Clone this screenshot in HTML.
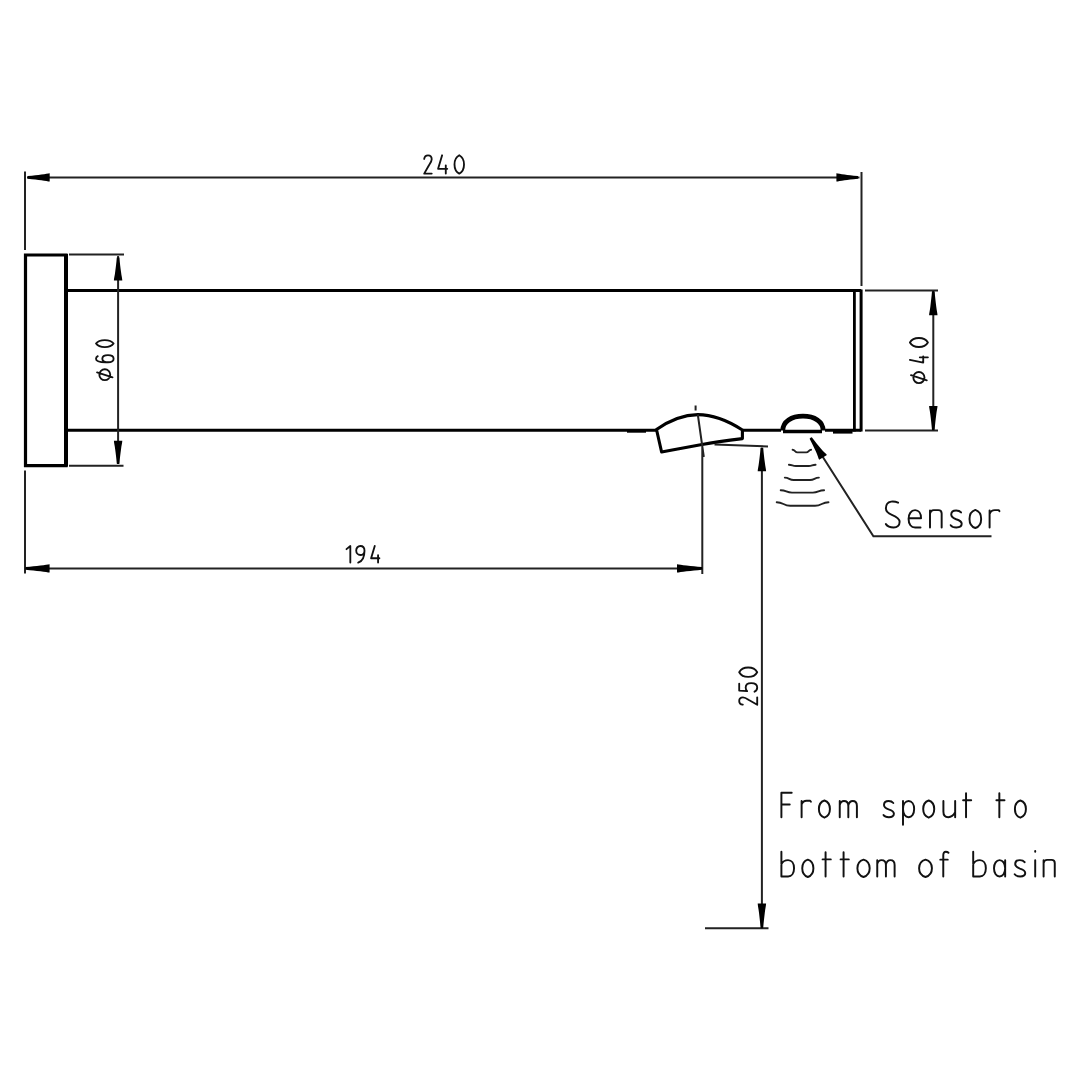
<!DOCTYPE html>
<html><head><meta charset="utf-8"><title>Drawing</title>
<style>html,body{margin:0;padding:0;background:#fff;}svg{display:block;}</style></head>
<body><svg width="1080" height="1080" viewBox="0 0 1080 1080">
<rect width="1080" height="1080" fill="#fff"/>
<g fill="none" stroke="#000" stroke-linecap="butt"><path d="M25.5,255 H66 V465.6 H25.5 Z" stroke-width="3.2"/>
<path d="M66,254 V466.5" stroke-width="4"/>
<path d="M66,290.6 H861.2" stroke-width="3"/>
<path d="M66,430.3 H656 M743,430.3 H781 M825,430.3 H861.2" stroke-width="3"/>
<path d="M627,430.9 H646" stroke-width="3.6"/>
<path d="M833,431.6 H852.5" stroke-width="4"/>
<path d="M854.4,290.6 V431.5" stroke-width="2.8"/>
<path d="M861.1,289.5 V431.5" stroke-width="3"/>
<path d="M656.5,429.5 C670,420 683,414.8 697.8,414.6 C712,414.6 727,420 742.4,430 L742.4,438.6 C729,440.2 715,442 702,444.4 C688,447 675,449.6 661.6,452 Z" stroke-width="3.1" stroke-linejoin="round"/>
<path d="M782.8,430.5 C782.8,421.5 791.5,416.2 803,416.2 C814.5,416.2 823.1,421.5 823.1,430.5" stroke-width="4.8"/>
<path d="M783,431.5 H822" stroke-width="3.6"/></g>
<g fill="none" stroke="#222" stroke-width="2.0" stroke-linecap="butt"><path d="M25,171.5 V250 M861.5,172 V286 M27,177.4 H859.5 M69,254.5 H124 M69,465.7 H123.5 M118.1,256 V464 M865,290.6 H938 M865,430.4 H938 M933.3,292 V429 M25,470.5 V573.5 M702.3,445 V574 M27,568.4 H700 M695.6,405.5 V410.5 M697.8,414.5 L703.8,457 M714.5,444.4 L768,446.4 M705,928.3 H768.5 M761.9,448 V926 M812,440 L873.4,536.3 H991.5"/></g>
<path fill="none" stroke="#222" stroke-width="1.9" stroke-linecap="round" d="M792.6,449.8 C795.00,449.80 795.00,452.40 797.41,452.40 H806.29 C808.70,452.40 808.70,449.80 811.1,449.8 M788.9,464.8 C792.37,464.80 792.37,466.00 795.84,466.00 H808.66 C812.13,466.00 812.13,464.80 815.6,464.8 M784.8,477.6 C789.23,477.60 789.23,480.00 793.67,480.00 H810.03 C814.47,480.00 814.47,477.60 818.9,477.6 M780.7,490.2 C786.34,490.20 786.34,492.60 791.98,492.60 H812.82 C818.46,492.60 818.46,490.20 824.1,490.2 M776.7,502.2 C783.43,502.20 783.43,505.80 790.17,505.80 H815.03 C821.77,505.80 821.77,502.20 828.5,502.2"/>
<g fill="#000" stroke="none"><path transform="translate(27.70,177.40) rotate(180.00)" d="M0,-1.3 C-6,-1.8 -10,-2.3 -13.64,-2.9 C-17.60,-3.4 -20.46,-4.20 -22.00,-4.20 L-22.00,4.20 C-20.46,4.20 -17.60,3.4 -13.64,2.9 C-10,2.3 -6,1.8 0,1.3 Q0.5,0 0,-1.3 Z"/>
<path transform="translate(857.90,177.40) rotate(0.00)" d="M0,-1.3 C-6,-1.8 -10,-2.3 -13.33,-2.9 C-17.20,-3.4 -20.00,-4.20 -21.50,-4.20 L-21.50,4.20 C-20.00,4.20 -17.20,3.4 -13.33,2.9 C-10,2.3 -6,1.8 0,1.3 Q0.5,0 0,-1.3 Z"/>
<path transform="translate(118.10,257.40) rotate(-90.00)" d="M0,-1.3 C-6,-1.8 -10,-2.3 -14.26,-2.9 C-18.40,-3.4 -21.39,-4.20 -23.00,-4.20 L-23.00,4.20 C-21.39,4.20 -18.40,3.4 -14.26,2.9 C-10,2.3 -6,1.8 0,1.3 Q0.5,0 0,-1.3 Z"/>
<path transform="translate(118.10,463.80) rotate(90.00)" d="M0,-1.3 C-6,-1.8 -10,-2.3 -14.26,-2.9 C-18.40,-3.4 -21.39,-4.20 -23.00,-4.20 L-23.00,4.20 C-21.39,4.20 -18.40,3.4 -14.26,2.9 C-10,2.3 -6,1.8 0,1.3 Q0.5,0 0,-1.3 Z"/>
<path transform="translate(933.30,291.30) rotate(-90.00)" d="M0,-1.3 C-6,-1.8 -10,-2.3 -14.88,-2.9 C-19.20,-3.4 -22.32,-4.20 -24.00,-4.20 L-24.00,4.20 C-22.32,4.20 -19.20,3.4 -14.88,2.9 C-10,2.3 -6,1.8 0,1.3 Q0.5,0 0,-1.3 Z"/>
<path transform="translate(933.30,429.90) rotate(90.00)" d="M0,-1.3 C-6,-1.8 -10,-2.3 -14.88,-2.9 C-19.20,-3.4 -22.32,-4.20 -24.00,-4.20 L-24.00,4.20 C-22.32,4.20 -19.20,3.4 -14.88,2.9 C-10,2.3 -6,1.8 0,1.3 Q0.5,0 0,-1.3 Z"/>
<path transform="translate(25.60,568.40) rotate(180.00)" d="M0,-1.3 C-6,-1.8 -10,-2.3 -14.88,-2.9 C-19.20,-3.4 -22.32,-4.20 -24.00,-4.20 L-24.00,4.20 C-22.32,4.20 -19.20,3.4 -14.88,2.9 C-10,2.3 -6,1.8 0,1.3 Q0.5,0 0,-1.3 Z"/>
<path transform="translate(702.00,568.40) rotate(0.00)" d="M0,-1.3 C-6,-1.8 -10,-2.3 -15.50,-2.9 C-20.00,-3.4 -23.25,-4.20 -25.00,-4.20 L-25.00,4.20 C-23.25,4.20 -20.00,3.4 -15.50,2.9 C-10,2.3 -6,1.8 0,1.3 Q0.5,0 0,-1.3 Z"/>
<path transform="translate(761.90,447.80) rotate(-90.00)" d="M0,-1.3 C-6,-1.8 -10,-2.3 -14.57,-2.9 C-18.80,-3.4 -21.86,-4.20 -23.50,-4.20 L-23.50,4.20 C-21.86,4.20 -18.80,3.4 -14.57,2.9 C-10,2.3 -6,1.8 0,1.3 Q0.5,0 0,-1.3 Z"/>
<path transform="translate(761.90,927.90) rotate(90.00)" d="M0,-1.3 C-6,-1.8 -10,-2.3 -15.19,-2.9 C-19.60,-3.4 -22.79,-4.20 -24.50,-4.20 L-24.50,4.20 C-22.79,4.20 -19.60,3.4 -15.19,2.9 C-10,2.3 -6,1.8 0,1.3 Q0.5,0 0,-1.3 Z"/>
<path transform="translate(810.70,438.00) rotate(-122.48)" d="M0,-1.3 C-6,-1.8 -10,-2.3 -14.26,-2.9 C-18.40,-3.4 -21.39,-4.60 -23.00,-4.60 L-23.00,4.60 C-21.39,4.60 -18.40,3.4 -14.26,2.9 C-10,2.3 -6,1.8 0,1.3 Q0.5,0 0,-1.3 Z"/></g>
<g fill="none" stroke="#111" stroke-linecap="round" stroke-linejoin="round"><path transform="matrix(1.8300,0,0,1.83,424.2,173.6)" d="M0,-8.0 C0.2,-9.4 1.0,-10 2.1,-10 C3.3,-10 4.1,-9.2 4.1,-7.9 C4.1,-6.6 3.3,-5.6 2.6,-4.6 L0,0 H4.1" stroke-width="1.0109" vector-effect="non-scaling-stroke" style="stroke-width:1.85px"/>
<path transform="matrix(1.8300,0,0,1.83,438.1,173.6)" d="M2.2,-10 L0,-2.6 H5.0 M4.2,-4.5 V0" stroke-width="1.0109" vector-effect="non-scaling-stroke" style="stroke-width:1.85px"/>
<path transform="matrix(1.8300,0,0,1.83,454.5,173.6)" d="M2.6,-10 C3.9,-9.3 5.2,-8.0 5.2,-5 C5.2,-2.0 3.9,-0.7 2.6,0 C1.3,-0.7 0,-2.0 0,-5 C0,-8.0 1.3,-9.3 2.6,-10 Z" stroke-width="1.0109" vector-effect="non-scaling-stroke" style="stroke-width:1.85px"/>
<path transform="matrix(1.6600,0,0,1.66,346.5,562.6)" d="M0,-8.1 L2.3,-10 V0" stroke-width="1.1145" vector-effect="non-scaling-stroke" style="stroke-width:1.85px"/>
<path transform="matrix(1.6600,0,0,1.66,356.2,562.6)" d="M5.0,-7.2 C5.0,-8.9 3.9,-10 2.5,-10 C1.1,-10 0,-8.9 0,-7.3 C0,-5.7 1.1,-4.6 2.5,-4.6 C3.9,-4.6 5.0,-5.7 5.0,-7.2 C5.0,-3.8 3.6,-0.8 1.2,0" stroke-width="1.1145" vector-effect="non-scaling-stroke" style="stroke-width:1.85px"/>
<path transform="matrix(1.6600,0,0,1.66,371.1,562.6)" d="M2.2,-10 L0,-2.6 H5.0 M4.2,-4.5 V0" stroke-width="1.1145" vector-effect="non-scaling-stroke" style="stroke-width:1.85px"/>
<path transform="matrix(0,-1.8000,1.8,0,757.2,704.7)" d="M0,-8.0 C0.2,-9.4 1.0,-10 2.1,-10 C3.3,-10 4.1,-9.2 4.1,-7.9 C4.1,-6.6 3.3,-5.6 2.6,-4.6 L0,0 H4.1" stroke-width="1.0278" vector-effect="non-scaling-stroke" style="stroke-width:1.85px"/>
<path transform="matrix(0,-1.8000,1.8,0,757.2,691.7)" d="M4.4,-10 H0.6 L0.3,-5.6 C0.9,-6.2 1.7,-6.4 2.4,-6.4 C3.8,-6.4 4.8,-5.2 4.8,-3.3 C4.8,-1.3 3.8,0 2.3,0 C1.2,0 0.4,-0.6 0,-1.5" stroke-width="1.0278" vector-effect="non-scaling-stroke" style="stroke-width:1.85px"/>
<path transform="matrix(0,-1.8000,1.8,0,757.2,676.9)" d="M2.6,-10 C3.9,-9.3 5.2,-8.0 5.2,-5 C5.2,-2.0 3.9,-0.7 2.6,0 C1.3,-0.7 0,-2.0 0,-5 C0,-8.0 1.3,-9.3 2.6,-10 Z" stroke-width="1.0278" vector-effect="non-scaling-stroke" style="stroke-width:1.85px"/>
<path transform="matrix(0,-1.7600,1.76,0,113.6,380.5)" d="M1.8,-0.6 L4.6,-9.4 M6.4,-5 A3.1,3.1 0 1 1 0.2,-5 A3.1,3.1 0 1 1 6.4,-5 Z" stroke-width="1.0511" vector-effect="non-scaling-stroke" style="stroke-width:1.85px"/>
<path transform="matrix(0,-1.4256,1.76,0,113.6,362.3)" d="M4.3,-9.0 C3.8,-9.7 3.2,-10 2.5,-10 C1.0,-10 0,-8.0 0,-4.5 L0,-3.2 C0,-1.2 1.1,0 2.5,0 C3.9,0 5.0,-1.2 5.0,-3.2 C5.0,-5.2 3.9,-6.4 2.5,-6.4 C1.2,-6.4 0.2,-5.4 0,-3.8" stroke-width="1.0511" vector-effect="non-scaling-stroke" style="stroke-width:1.85px"/>
<path transform="matrix(0,-1.3552,1.76,0,113.6,347.1)" d="M2.6,-10 C3.9,-9.3 5.2,-8.0 5.2,-5 C5.2,-2.0 3.9,-0.7 2.6,0 C1.3,-0.7 0,-2.0 0,-5 C0,-8.0 1.3,-9.3 2.6,-10 Z" stroke-width="1.0511" vector-effect="non-scaling-stroke" style="stroke-width:1.85px"/>
<path transform="matrix(0,-1.8000,1.8,0,927.9,383.5)" d="M1.8,-0.6 L4.6,-9.4 M6.4,-5 A3.1,3.1 0 1 1 0.2,-5 A3.1,3.1 0 1 1 6.4,-5 Z" stroke-width="1.0278" vector-effect="non-scaling-stroke" style="stroke-width:1.85px"/>
<path transform="matrix(0,-1.2600,1.8,0,927.9,362.6)" d="M2.2,-10 L0,-2.6 H5.0 M4.2,-4.5 V0" stroke-width="1.0278" vector-effect="non-scaling-stroke" style="stroke-width:1.85px"/>
<path transform="matrix(0,-1.7280,1.8,0,927.9,347.0)" d="M2.6,-10 C3.9,-9.3 5.2,-8.0 5.2,-5 C5.2,-2.0 3.9,-0.7 2.6,0 C1.3,-0.7 0,-2.0 0,-5 C0,-8.0 1.3,-9.3 2.6,-10 Z" stroke-width="1.0278" vector-effect="non-scaling-stroke" style="stroke-width:1.85px"/>
<path transform="matrix(2.5900,0,0,2.59,885.9,527.5)" d="M4.7,-9.6 C3.8,-10.0 2.9,-10.1 2.0,-10.0 C0.8,-9.8 0,-8.8 0,-7.4 C0,-6.0 1.0,-5.4 2.3,-4.9 C4.0,-4.2 5.3,-3.5 5.3,-2.2 C5.3,-0.8 4.3,0 3.0,0 C1.7,0 0.6,-0.4 0,-1.3" stroke-width="0.7529" vector-effect="non-scaling-stroke" style="stroke-width:1.95px"/>
<path transform="matrix(2.5900,0,0,2.59,908.6,527.5)" d="M0,-3.6 H4.8 C4.8,-5.5 3.9,-6.7 2.5,-6.7 C1.0,-6.7 0,-5.3 0,-3.3 C0,-1.2 1.0,0 2.5,0 H4.6" stroke-width="0.7529" vector-effect="non-scaling-stroke" style="stroke-width:1.95px"/>
<path transform="matrix(2.5900,0,0,2.59,930.0,527.5)" d="M0,-6.6 V0 M0,-5.4 C0.2,-6.3 0.7,-6.7 1.4,-6.7 H3.2 C4.0,-6.7 4.5,-6.2 4.5,-5.4 V0" stroke-width="0.7529" vector-effect="non-scaling-stroke" style="stroke-width:1.95px"/>
<path transform="matrix(2.5900,0,0,2.59,950.7,527.5)" d="M4.0,-5.8 C3.6,-6.3 3.0,-6.6 2.1,-6.6 C0.9,-6.6 0.2,-6.0 0.2,-5.0 C0.2,-4.0 1.0,-3.6 2.1,-3.2 C3.4,-2.8 4.25,-2.3 4.25,-1.4 C4.25,-0.5 3.4,0 2.2,0 C1.2,0 0.4,-0.3 0,-0.9" stroke-width="0.7529" vector-effect="non-scaling-stroke" style="stroke-width:1.95px"/>
<path transform="matrix(2.5900,0,0,2.59,969.5,527.5)" d="M2.25,-6.8 C3.5,-6.4 4.5,-5.3 4.5,-3.3 C4.5,-1.3 3.5,-0.2 2.25,0.2 C1.0,-0.2 0,-1.3 0,-3.3 C0,-5.3 1.0,-6.4 2.25,-6.8 Z" stroke-width="0.7529" vector-effect="non-scaling-stroke" style="stroke-width:1.95px"/>
<path transform="matrix(2.5900,0,0,2.59,989.6,527.5)" d="M0,-6.6 V0 M0,-5.2 C0.4,-6.2 1.1,-6.7 2.0,-6.7 H3.5 L3.8,-6.3" stroke-width="0.7529" vector-effect="non-scaling-stroke" style="stroke-width:1.95px"/>
<path transform="matrix(2.4500,0,0,2.45,781.4,817.2)" d="M4.2,-10 H0 V0 M0,-5.2 H3.4" stroke-width="0.7959" vector-effect="non-scaling-stroke" style="stroke-width:1.95px"/>
<path transform="matrix(2.4500,0,0,2.45,801.6,817.2)" d="M0,-6.6 V0 M0,-5.2 C0.4,-6.2 1.1,-6.7 2.0,-6.7 H3.5 L3.8,-6.3" stroke-width="0.7959" vector-effect="non-scaling-stroke" style="stroke-width:1.95px"/>
<path transform="matrix(2.4500,0,0,2.45,818.9,817.2)" d="M2.25,-6.8 C3.5,-6.4 4.5,-5.3 4.5,-3.3 C4.5,-1.3 3.5,-0.2 2.25,0.2 C1.0,-0.2 0,-1.3 0,-3.3 C0,-5.3 1.0,-6.4 2.25,-6.8 Z" stroke-width="0.7959" vector-effect="non-scaling-stroke" style="stroke-width:1.95px"/>
<path transform="matrix(2.4500,0,0,2.45,839.75,817.2)" d="M0,-6.6 V0 M0,-5.0 C0.3,-6.1 0.9,-6.6 1.7,-6.6 C2.8,-6.6 3.5,-5.9 3.5,-4.6 V0 M3.5,-4.8 C3.8,-6.1 4.5,-6.6 5.3,-6.6 C6.4,-6.6 7.0,-5.9 7.0,-4.6 V0" stroke-width="0.7959" vector-effect="non-scaling-stroke" style="stroke-width:1.95px"/>
<path transform="matrix(2.4500,0,0,2.45,883.5,817.2)" d="M4.0,-5.8 C3.6,-6.3 3.0,-6.6 2.1,-6.6 C0.9,-6.6 0.2,-6.0 0.2,-5.0 C0.2,-4.0 1.0,-3.6 2.1,-3.2 C3.4,-2.8 4.25,-2.3 4.25,-1.4 C4.25,-0.5 3.4,0 2.2,0 C1.2,0 0.4,-0.3 0,-0.9" stroke-width="0.7959" vector-effect="non-scaling-stroke" style="stroke-width:1.95px"/>
<path transform="matrix(2.4500,0,0,2.45,903.0,817.2)" d="M0,-6.6 V3.1 M0,-3.3 C0,-5.3 1.0,-6.6 2.3,-6.6 C3.6,-6.6 4.55,-5.3 4.55,-3.3 C4.55,-1.3 3.6,0 2.3,0 C1.0,0 0,-1.3 0,-3.3" stroke-width="0.7959" vector-effect="non-scaling-stroke" style="stroke-width:1.95px"/>
<path transform="matrix(2.4500,0,0,2.45,923.2,817.2)" d="M2.25,-6.8 C3.5,-6.4 4.5,-5.3 4.5,-3.3 C4.5,-1.3 3.5,-0.2 2.25,0.2 C1.0,-0.2 0,-1.3 0,-3.3 C0,-5.3 1.0,-6.4 2.25,-6.8 Z" stroke-width="0.7959" vector-effect="non-scaling-stroke" style="stroke-width:1.95px"/>
<path transform="matrix(2.4500,0,0,2.45,943.4,817.2)" d="M0,-6.6 V-2.2 C0,-0.8 0.8,0 2.0,0 C3.2,0 4.1,-0.7 4.8,-2.0 M4.8,-6.6 V0" stroke-width="0.7959" vector-effect="non-scaling-stroke" style="stroke-width:1.95px"/>
<path transform="matrix(2.4500,0,0,2.45,963.1,817.2)" d="M1.2,-9.8 V0 M0,-6.9 H3.3" stroke-width="0.7959" vector-effect="non-scaling-stroke" style="stroke-width:1.95px"/>
<path transform="matrix(2.4500,0,0,2.45,996.4,817.2)" d="M1.2,-9.8 V0 M0,-6.9 H3.3" stroke-width="0.7959" vector-effect="non-scaling-stroke" style="stroke-width:1.95px"/>
<path transform="matrix(2.4500,0,0,2.45,1014.9,817.2)" d="M2.25,-6.8 C3.5,-6.4 4.5,-5.3 4.5,-3.3 C4.5,-1.3 3.5,-0.2 2.25,0.2 C1.0,-0.2 0,-1.3 0,-3.3 C0,-5.3 1.0,-6.4 2.25,-6.8 Z" stroke-width="0.7959" vector-effect="non-scaling-stroke" style="stroke-width:1.95px"/>
<path transform="matrix(2.4800,0,0,2.48,781.4,876.5)" d="M0,-10 V0 H2.7 C4.1,0 5.1,-1.3 5.1,-3.3 C5.1,-5.3 4.1,-6.6 2.7,-6.6 C1.5,-6.6 0.5,-6.0 0,-5.0" stroke-width="0.7863" vector-effect="non-scaling-stroke" style="stroke-width:1.95px"/>
<path transform="matrix(2.4800,0,0,2.48,802.25,876.5)" d="M2.25,-6.8 C3.5,-6.4 4.5,-5.3 4.5,-3.3 C4.5,-1.3 3.5,-0.2 2.25,0.2 C1.0,-0.2 0,-1.3 0,-3.3 C0,-5.3 1.0,-6.4 2.25,-6.8 Z" stroke-width="0.7863" vector-effect="non-scaling-stroke" style="stroke-width:1.95px"/>
<path transform="matrix(2.4800,0,0,2.48,822.6,876.5)" d="M1.2,-9.8 V0 M0,-6.9 H3.3" stroke-width="0.7863" vector-effect="non-scaling-stroke" style="stroke-width:1.95px"/>
<path transform="matrix(2.4800,0,0,2.48,840.6,876.5)" d="M1.2,-9.8 V0 M0,-6.9 H3.3" stroke-width="0.7863" vector-effect="non-scaling-stroke" style="stroke-width:1.95px"/>
<path transform="matrix(2.7280,0,0,2.48,857.4,876.5)" d="M2.25,-6.8 C3.5,-6.4 4.5,-5.3 4.5,-3.3 C4.5,-1.3 3.5,-0.2 2.25,0.2 C1.0,-0.2 0,-1.3 0,-3.3 C0,-5.3 1.0,-6.4 2.25,-6.8 Z" stroke-width="0.7863" vector-effect="non-scaling-stroke" style="stroke-width:1.95px"/>
<path transform="matrix(2.4800,0,0,2.48,877.25,876.5)" d="M0,-6.6 V0 M0,-5.0 C0.3,-6.1 0.9,-6.6 1.7,-6.6 C2.8,-6.6 3.5,-5.9 3.5,-4.6 V0 M3.5,-4.8 C3.8,-6.1 4.5,-6.6 5.3,-6.6 C6.4,-6.6 7.0,-5.9 7.0,-4.6 V0" stroke-width="0.7863" vector-effect="non-scaling-stroke" style="stroke-width:1.95px"/>
<path transform="matrix(2.8520,0,0,2.48,919.1,876.5)" d="M2.25,-6.8 C3.5,-6.4 4.5,-5.3 4.5,-3.3 C4.5,-1.3 3.5,-0.2 2.25,0.2 C1.0,-0.2 0,-1.3 0,-3.3 C0,-5.3 1.0,-6.4 2.25,-6.8 Z" stroke-width="0.7863" vector-effect="non-scaling-stroke" style="stroke-width:1.95px"/>
<path transform="matrix(2.4800,0,0,2.48,940.3,876.5)" d="M3.3,-9.6 C3.0,-9.9 2.6,-10 2.2,-10 C1.6,-10 1.2,-9.5 1.2,-8.6 V0 M0,-6.8 H3.0" stroke-width="0.7863" vector-effect="non-scaling-stroke" style="stroke-width:1.95px"/>
<path transform="matrix(2.4800,0,0,2.48,973.2,876.5)" d="M0,-10 V0 H2.7 C4.1,0 5.1,-1.3 5.1,-3.3 C5.1,-5.3 4.1,-6.6 2.7,-6.6 C1.5,-6.6 0.5,-6.0 0,-5.0" stroke-width="0.7863" vector-effect="non-scaling-stroke" style="stroke-width:1.95px"/>
<path transform="matrix(2.4800,0,0,2.48,994.0,876.5)" d="M4.5,-6.6 V0 M4.5,-3.3 C4.5,-5.3 3.5,-6.6 2.25,-6.6 C1.0,-6.6 0,-5.3 0,-3.3 C0,-1.3 1.0,0 2.25,0 C3.5,0 4.5,-1.3 4.5,-3.3" stroke-width="0.7863" vector-effect="non-scaling-stroke" style="stroke-width:1.95px"/>
<path transform="matrix(2.4800,0,0,2.48,1014.7,876.5)" d="M4.0,-5.8 C3.6,-6.3 3.0,-6.6 2.1,-6.6 C0.9,-6.6 0.2,-6.0 0.2,-5.0 C0.2,-4.0 1.0,-3.6 2.1,-3.2 C3.4,-2.8 4.25,-2.3 4.25,-1.4 C4.25,-0.5 3.4,0 2.2,0 C1.2,0 0.4,-0.3 0,-0.9" stroke-width="0.7863" vector-effect="non-scaling-stroke" style="stroke-width:1.95px"/>
<path transform="matrix(2.4800,0,0,2.48,1035.2,876.5)" d="M0,-6.6 V0 M0,-10.3 V-10.0" stroke-width="0.7863" vector-effect="non-scaling-stroke" style="stroke-width:1.95px"/>
<path transform="matrix(2.4800,0,0,2.48,1043.6,876.5)" d="M0,-6.6 V0 M0,-5.4 C0.2,-6.3 0.7,-6.7 1.4,-6.7 H3.2 C4.0,-6.7 4.5,-6.2 4.5,-5.4 V0" stroke-width="0.7863" vector-effect="non-scaling-stroke" style="stroke-width:1.95px"/></g>
</svg></body></html>
